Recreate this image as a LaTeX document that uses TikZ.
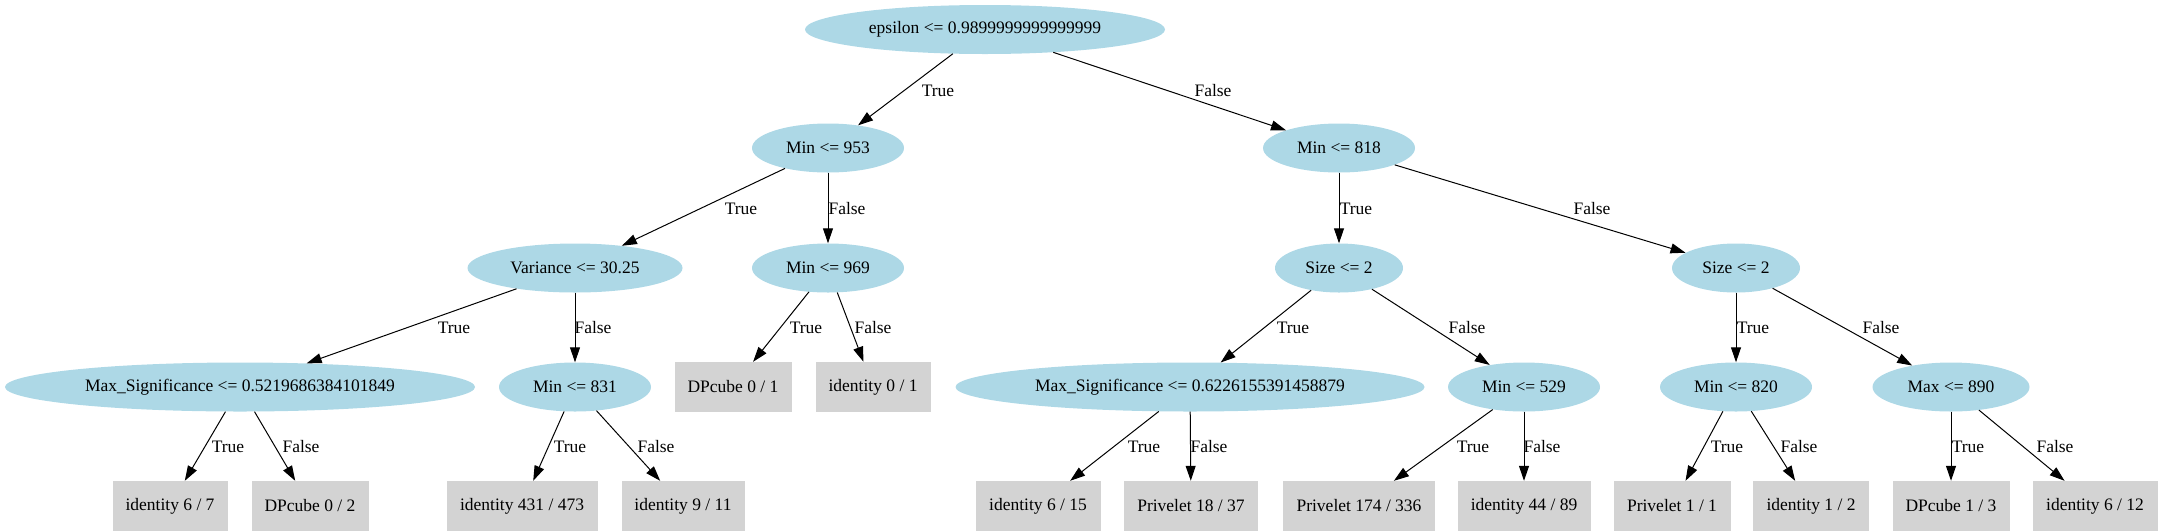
\documentclass[tikz,border=0pt]{standalone}
\usepackage{fontspec}
\setmainfont{Liberation Serif}
\usetikzlibrary{arrows.meta,shapes.geometric}
\definecolor{lblue}{HTML}{ADD8E6}
\definecolor{lgrey}{HTML}{D3D3D3}
\begin{document}
\begin{tikzpicture}[x=1pt,y=-1pt,
 font=\fontsize{17.5}{20}\selectfont,
 split/.style={ellipse, fill=lblue, inner sep=0pt, minimum height=49pt},
 leaf/.style={rectangle, fill=lgrey, inner sep=0pt, minimum height=50pt},
 edge/.style={draw=black, line width=1pt, -{Triangle[length=15pt,width=10pt]}},
 lab/.style={inner sep=0pt}]
\useasboundingbox (0,0) rectangle (2162,531);
% level 0
\node[split, minimum width=360pt] (root) at (985,29.5) {epsilon <= 0.9899999999999999};
% level 1
\node[split, minimum width=152pt] (m953) at (828,148) {Min <= 953};
\node[split, minimum width=152pt] (m818) at (1339,148) {Min <= 818};
% level 2
\node[split, minimum width=215pt] (var) at (575,268) {Variance <= 30.25};
\node[split, minimum width=152pt] (m969) at (828,268) {Min <= 969};
\node[split, minimum width=128pt] (sizeL) at (1339,268) {Size <= 2};
\node[split, minimum width=128pt] (sizeR) at (1736,268) {Size <= 2};
% level 3
\node[split, minimum width=470pt] (msL) at (240,387) {Max\_Significance <= 0.5219686384101849};
\node[split, minimum width=152pt] (m831) at (575,387) {Min <= 831};
\node[leaf, minimum width=117pt] (dp01) at (733,387) {DPcube 0 / 1};
\node[leaf, minimum width=115pt] (id01) at (873,387) {identity 0 / 1};
\node[split, minimum width=469pt] (msR) at (1190,387) {Max\_Significance <= 0.6226155391458879};
\node[split, minimum width=152pt] (m529) at (1524,387) {Min <= 529};
\node[split, minimum width=152pt] (m820) at (1736,387) {Min <= 820};
\node[split, minimum width=157pt] (x890) at (1951,387) {Max <= 890};
% level 4
\node[leaf, minimum width=115pt] (id67) at (170,506) {identity 6 / 7};
\node[leaf, minimum width=117pt] (dp02) at (310,506) {DPcube 0 / 2};
\node[leaf, minimum width=151pt] (id431) at (522,506) {identity 431 / 473};
\node[leaf, minimum width=123pt] (id911) at (683,506) {identity 9 / 11};
\node[leaf, minimum width=125pt] (id615) at (1038,506) {identity 6 / 15};
\node[leaf, minimum width=134pt] (pr1837) at (1191,506) {Privelet 18 / 37};
\node[leaf, minimum width=152pt] (pr174) at (1359,506) {Privelet 174 / 336};
\node[leaf, minimum width=133pt] (id4489) at (1524,506) {identity 44 / 89};
\node[leaf, minimum width=117pt] (pr11) at (1672,506) {Privelet 1 / 1};
\node[leaf, minimum width=116pt] (id12) at (1811,506) {identity 1 / 2};
\node[leaf, minimum width=117pt] (dp13) at (1951,506) {DPcube 1 / 3};
\node[leaf, minimum width=125pt] (id612) at (2095,506) {identity 6 / 12};
% edges
\draw[edge] (root) -- (m953) node[lab] at (938,91) {True};
\draw[edge] (root) -- (m818) node[lab] at (1213,91) {False};
\draw[edge] (m953) -- (var) node[lab] at (741,209) {True};
\draw[edge] (m953) -- (m969) node[lab] at (847,209) {False};
\draw[edge] (m818) -- (sizeL) node[lab] at (1356,209) {True};
\draw[edge] (m818) -- (sizeR) node[lab] at (1592,209) {False};
\draw[edge] (var) -- (msL) node[lab] at (454,328) {True};
\draw[edge] (var) -- (m831) node[lab] at (593,328) {False};
\draw[edge] (m969) -- (dp01) node[lab] at (806,328) {True};
\draw[edge] (m969) -- (id01) node[lab] at (873,328) {False};
\draw[edge] (sizeL) -- (msR) node[lab] at (1293,328) {True};
\draw[edge] (sizeL) -- (m529) node[lab] at (1467,328) {False};
\draw[edge] (sizeR) -- (m820) node[lab] at (1753,328) {True};
\draw[edge] (sizeR) -- (x890) node[lab] at (1881,328) {False};
\draw[edge] (msL) -- (id67) node[lab] at (228,447) {True};
\draw[edge] (msL) -- (dp02) node[lab] at (301,447) {False};
\draw[edge] (m831) -- (id431) node[lab] at (570,447) {True};
\draw[edge] (m831) -- (id911) node[lab] at (656,447) {False};
\draw[edge] (msR) -- (id615) node[lab] at (1144,447) {True};
\draw[edge] (msR) -- (pr1837) node[lab] at (1209,447) {False};
\draw[edge] (m529) -- (pr174) node[lab] at (1473,447) {True};
\draw[edge] (m529) -- (id4489) node[lab] at (1542,447) {False};
\draw[edge] (m820) -- (pr11) node[lab] at (1727,447) {True};
\draw[edge] (m820) -- (id12) node[lab] at (1799,447) {False};
\draw[edge] (x890) -- (dp13) node[lab] at (1968,447) {True};
\draw[edge] (x890) -- (id612) node[lab] at (2055,447) {False};
\end{tikzpicture}
\end{document}
